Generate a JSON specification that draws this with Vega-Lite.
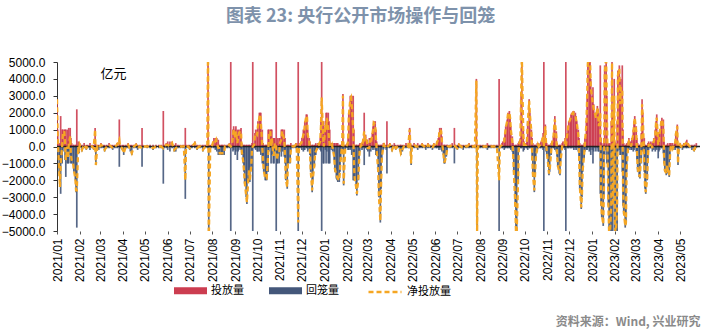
{
"$schema":"https://vega.github.io/schema/vega-lite/v6.json",
"width":643,"height":169,
"autosize":{"type":"none"},
"padding":{"left":57,"top":62,"right":7,"bottom":103},
"background":"white",
"title":{"text":"图表 23: 央行公开市场操作与回笼","font":"Noto Sans CJK SC","fontSize":18,"fontWeight":"bold","color":"#7e92ab","anchor":"middle","offset":30,"dx":-18},
"config":{"view":{"stroke":null},"axis":{"grid":false},"axisY":{"labelOverlap":false,"labelBound":false},"axisX":{"labelOverlap":false}},
"data":{"values":[
{"d":"2021-01-01","投放量":2800,"回笼量":0,"净投放量":2800},
{"d":"2021-01-02","投放量":1000,"回笼量":-500,"净投放量":500},
{"d":"2021-01-04","投放量":200,"回笼量":-1500,"净投放量":-1300},
{"d":"2021-01-05","投放量":0,"回笼量":-2400,"净投放量":-2400},
{"d":"2021-01-06","投放量":1800,"回笼量":-2800,"净投放量":-1000},
{"d":"2021-01-08","投放量":1000,"回笼量":-1000,"净投放量":0},
{"d":"2021-01-09","投放量":1000,"回笼量":-300,"净投放量":700},
{"d":"2021-01-11","投放量":1000,"回笼量":-100,"净投放量":900},
{"d":"2021-01-12","投放量":1000,"回笼量":-800,"净投放量":200},
{"d":"2021-01-13","投放量":1000,"回笼量":-1800,"净投放量":-800},
{"d":"2021-01-15","投放量":1000,"回笼量":-1000,"净投放量":0},
{"d":"2021-01-16","投放量":300,"回笼量":-1000,"净投放量":-700},
{"d":"2021-01-17","投放量":1100,"回笼量":-1000,"净投放量":100},
{"d":"2021-01-19","投放量":1100,"回笼量":-500,"净投放量":600},
{"d":"2021-01-20","投放量":500,"回笼量":-1000,"净投放量":-500},
{"d":"2021-01-21","投放量":200,"回笼量":-1000,"净投放量":-800},
{"d":"2021-01-23","投放量":100,"回笼量":-1100,"净投放量":-1000},
{"d":"2021-01-24","投放量":100,"回笼量":-1500,"净投放量":-1400},
{"d":"2021-01-26","投放量":100,"回笼量":-2000,"净投放量":-1900},
{"d":"2021-01-27","投放量":100,"回笼量":-2700,"净投放量":-2600},
{"d":"2021-01-28","投放量":2200,"回笼量":-4800,"净投放量":-2600},
{"d":"2021-01-30","投放量":300,"回笼量":-300,"净投放量":0},
{"d":"2021-01-31","投放量":100,"回笼量":-400,"净投放量":-300},
{"d":"2021-02-01","投放量":200,"回笼量":-100,"净投放量":100},
{"d":"2021-02-04","投放量":100,"回笼量":-300,"净投放量":-200},
{"d":"2021-02-07","投放量":200,"回笼量":-100,"净投放量":100},
{"d":"2021-02-10","投放量":100,"回笼量":-200,"净投放量":-100},
{"d":"2021-02-12","投放量":100,"回笼量":-100,"净投放量":0},
{"d":"2021-02-15","投放量":200,"回笼量":-200,"净投放量":0},
{"d":"2021-02-18","投放量":100,"回笼量":-100,"净投放量":0},
{"d":"2021-02-20","投放量":100,"回笼量":-200,"净投放量":-100},
{"d":"2021-02-22","投放量":1100,"回笼量":-100,"净投放量":1000},
{"d":"2021-02-23","投放量":0,"回笼量":-1100,"净投放量":-1100},
{"d":"2021-02-25","投放量":100,"回笼量":-100,"净投放量":0},
{"d":"2021-02-27","投放量":100,"回笼量":-200,"净投放量":-100},
{"d":"2021-03-02","投放量":200,"回笼量":-100,"净投放量":100},
{"d":"2021-03-05","投放量":100,"回笼量":-100,"净投放量":0},
{"d":"2021-03-07","投放量":100,"回笼量":-300,"净投放量":-200},
{"d":"2021-03-10","投放量":100,"回笼量":-100,"净投放量":0},
{"d":"2021-03-13","投放量":200,"回笼量":-100,"净投放量":100},
{"d":"2021-03-16","投放量":100,"回笼量":-100,"净投放量":0},
{"d":"2021-03-18","投放量":100,"回笼量":-200,"净投放量":-100},
{"d":"2021-03-21","投放量":100,"回笼量":-100,"净投放量":0},
{"d":"2021-03-24","投放量":200,"回笼量":-100,"净投放量":100},
{"d":"2021-03-27","投放量":1600,"回笼量":-1200,"净投放量":400},
{"d":"2021-03-28","投放量":100,"回笼量":-100,"净投放量":0},
{"d":"2021-03-31","投放量":100,"回笼量":-200,"净投放量":-100},
{"d":"2021-04-02","投放量":100,"回笼量":-500,"净投放量":-400},
{"d":"2021-04-05","投放量":100,"回笼量":-100,"净投放量":0},
{"d":"2021-04-08","投放量":200,"回笼量":-100,"净投放量":100},
{"d":"2021-04-11","投放量":100,"回笼量":-300,"净投放量":-200},
{"d":"2021-04-13","投放量":100,"回笼量":-500,"净投放量":-400},
{"d":"2021-04-16","投放量":100,"回笼量":-100,"净投放量":0},
{"d":"2021-04-19","投放量":200,"回笼量":-100,"净投放量":100},
{"d":"2021-04-21","投放量":100,"回笼量":-200,"净投放量":-100},
{"d":"2021-04-24","投放量":100,"回笼量":-100,"净投放量":0},
{"d":"2021-04-27","投放量":1100,"回笼量":-1200,"净投放量":-100},
{"d":"2021-04-28","投放量":100,"回笼量":-100,"净投放量":0},
{"d":"2021-05-04","投放量":100,"回笼量":-100,"净投放量":0},
{"d":"2021-05-08","投放量":100,"回笼量":-100,"净投放量":0},
{"d":"2021-05-12","投放量":100,"回笼量":-200,"净投放量":-100},
{"d":"2021-05-16","投放量":100,"回笼量":-100,"净投放量":0},
{"d":"2021-05-20","投放量":100,"回笼量":-100,"净投放量":0},
{"d":"2021-05-23","投放量":100,"回笼量":-100,"净投放量":0},
{"d":"2021-05-26","投放量":2100,"回笼量":-2200,"净投放量":-100},
{"d":"2021-05-27","投放量":100,"回笼量":-100,"净投放量":0},
{"d":"2021-05-30","投放量":200,"回笼量":-100,"净投放量":100},
{"d":"2021-06-01","投放量":300,"回笼量":-200,"净投放量":100},
{"d":"2021-06-04","投放量":300,"回笼量":-300,"净投放量":0},
{"d":"2021-06-07","投放量":300,"回笼量":-100,"净投放量":200},
{"d":"2021-06-10","投放量":100,"回笼量":-300,"净投放量":-200},
{"d":"2021-06-12","投放量":200,"回笼量":-300,"净投放量":-100},
{"d":"2021-06-15","投放量":100,"回笼量":-100,"净投放量":0},
{"d":"2021-06-18","投放量":100,"回笼量":-100,"净投放量":0},
{"d":"2021-06-21","投放量":100,"回笼量":-100,"净投放量":0},
{"d":"2021-06-23","投放量":100,"回笼量":-100,"净投放量":0},
{"d":"2021-06-25","投放量":1100,"回笼量":-3100,"净投放量":-2000},
{"d":"2021-06-26","投放量":100,"回笼量":-100,"净投放量":0},
{"d":"2021-06-29","投放量":100,"回笼量":-100,"净投放量":0},
{"d":"2021-07-01","投放量":100,"回笼量":-200,"净投放量":-100},
{"d":"2021-07-04","投放量":100,"回笼量":-100,"净投放量":0},
{"d":"2021-07-08","投放量":300,"回笼量":-100,"净投放量":200},
{"d":"2021-07-11","投放量":100,"回笼量":-200,"净投放量":-100},
{"d":"2021-07-14","投放量":100,"回笼量":-100,"净投放量":0},
{"d":"2021-07-16","投放量":100,"回笼量":-100,"净投放量":0},
{"d":"2021-07-19","投放量":100,"回笼量":-300,"净投放量":-200},
{"d":"2021-07-22","投放量":100,"回笼量":-100,"净投放量":0},
{"d":"2021-07-25","投放量":100,"回笼量":-100,"净投放量":0},
{"d":"2021-07-26","投放量":6000,"回笼量":-100,"净投放量":5900},
{"d":"2021-07-27","投放量":100,"回笼量":-6000,"净投放量":-5900},
{"d":"2021-07-29","投放量":100,"回笼量":-100,"净投放量":0},
{"d":"2021-07-31","投放量":100,"回笼量":-100,"净投放量":0},
{"d":"2021-08-03","投放量":500,"回笼量":-100,"净投放量":400},
{"d":"2021-08-05","投放量":500,"回笼量":-200,"净投放量":300},
{"d":"2021-08-06","投放量":500,"回笼量":-100,"净投放量":400},
{"d":"2021-08-07","投放量":500,"回笼量":-300,"净投放量":200},
{"d":"2021-08-09","投放量":400,"回笼量":-500,"净投放量":-100},
{"d":"2021-08-10","投放量":100,"回笼量":-200,"净投放量":-100},
{"d":"2021-08-11","投放量":100,"回笼量":-500,"净投放量":-400},
{"d":"2021-08-13","投放量":100,"回笼量":-500,"净投放量":-400},
{"d":"2021-08-14","投放量":100,"回笼量":-500,"净投放量":-400},
{"d":"2021-08-15","投放量":100,"回笼量":-500,"净投放量":-400},
{"d":"2021-08-17","投放量":100,"回笼量":-500,"净投放量":-400},
{"d":"2021-08-18","投放量":100,"回笼量":-100,"净投放量":0},
{"d":"2021-08-21","投放量":100,"回笼量":-100,"净投放量":0},
{"d":"2021-08-24","投放量":200,"回笼量":-100,"净投放量":100},
{"d":"2021-08-26","投放量":6000,"回笼量":-6000,"净投放量":0},
{"d":"2021-08-28","投放量":200,"回笼量":-100,"净投放量":100},
{"d":"2021-08-29","投放量":1000,"回笼量":-300,"净投放量":700},
{"d":"2021-08-30","投放量":1200,"回笼量":-200,"净投放量":1000},
{"d":"2021-09-01","投放量":1000,"回笼量":-500,"净投放量":500},
{"d":"2021-09-02","投放量":1200,"回笼量":-300,"净投放量":900},
{"d":"2021-09-04","投放量":1000,"回笼量":-800,"净投放量":200},
{"d":"2021-09-05","投放量":800,"回笼量":-300,"净投放量":500},
{"d":"2021-09-06","投放量":1000,"回笼量":-200,"净投放量":800},
{"d":"2021-09-08","投放量":1000,"回笼量":-100,"净投放量":900},
{"d":"2021-09-09","投放量":1100,"回笼量":-200,"净投放量":900},
{"d":"2021-09-10","投放量":200,"回笼量":-500,"净投放量":-300},
{"d":"2021-09-12","投放量":100,"回笼量":-1000,"净投放量":-900},
{"d":"2021-09-13","投放量":100,"回笼量":-1500,"净投放量":-1400},
{"d":"2021-09-14","投放量":100,"回笼量":-2200,"净投放量":-2100},
{"d":"2021-09-16","投放量":100,"回笼量":-3000,"净投放量":-2900},
{"d":"2021-09-17","投放量":100,"回笼量":-3400,"净投放量":-3300},
{"d":"2021-09-19","投放量":100,"回笼量":-2000,"净投放量":-1900},
{"d":"2021-09-20","投放量":100,"回笼量":-1500,"净投放量":-1400},
{"d":"2021-09-21","投放量":100,"回笼量":-2100,"净投放量":-2000},
{"d":"2021-09-23","投放量":100,"回笼量":-1200,"净投放量":-1100},
{"d":"2021-09-24","投放量":200,"回笼量":-300,"净投放量":-100},
{"d":"2021-09-25","投放量":6000,"回笼量":-6000,"净投放量":0},
{"d":"2021-09-27","投放量":200,"回笼量":-100,"净投放量":100},
{"d":"2021-09-28","投放量":800,"回笼量":-100,"净投放量":700},
{"d":"2021-09-29","投放量":1000,"回笼量":-200,"净投放量":800},
{"d":"2021-10-01","投放量":1000,"回笼量":-300,"净投放量":700},
{"d":"2021-10-02","投放量":1500,"回笼量":-300,"净投放量":1200},
{"d":"2021-10-04","投放量":2000,"回笼量":-300,"净投放量":1700},
{"d":"2021-10-05","投放量":2000,"回笼量":-100,"净投放量":1900},
{"d":"2021-10-06","投放量":2000,"回笼量":-500,"净投放量":1500},
{"d":"2021-10-08","投放量":1000,"回笼量":-1000,"净投放量":0},
{"d":"2021-10-09","投放量":200,"回笼量":-1000,"净投放量":-800},
{"d":"2021-10-10","投放量":100,"回笼量":-1500,"净投放量":-1400},
{"d":"2021-10-12","投放量":100,"回笼量":-2000,"净投放量":-1900},
{"d":"2021-10-13","投放量":100,"回笼量":-2000,"净投放量":-1900},
{"d":"2021-10-14","投放量":100,"回笼量":-2000,"净投放量":-1900},
{"d":"2021-10-16","投放量":1000,"回笼量":-1500,"净投放量":-500},
{"d":"2021-10-17","投放量":1000,"回笼量":-300,"净投放量":700},
{"d":"2021-10-19","投放量":1000,"回笼量":-100,"净投放量":900},
{"d":"2021-10-20","投放量":1000,"回笼量":-1000,"净投放量":0},
{"d":"2021-10-21","投放量":1000,"回笼量":-500,"净投放量":500},
{"d":"2021-10-23","投放量":500,"回笼量":-1000,"净投放量":-500},
{"d":"2021-10-24","投放量":500,"回笼量":-1000,"净投放量":-500},
{"d":"2021-10-25","投放量":500,"回笼量":-300,"净投放量":200},
{"d":"2021-10-27","投放量":6000,"回笼量":-6000,"净投放量":0},
{"d":"2021-10-28","投放量":200,"回笼量":-1000,"净投放量":-800},
{"d":"2021-10-29","投放量":500,"回笼量":-1000,"净投放量":-500},
{"d":"2021-10-31","投放量":500,"回笼量":-1000,"净投放量":-500},
{"d":"2021-11-01","投放量":500,"回笼量":-300,"净投放量":200},
{"d":"2021-11-03","投放量":1000,"回笼量":-600,"净投放量":400},
{"d":"2021-11-04","投放量":1000,"回笼量":-100,"净投放量":900},
{"d":"2021-11-05","投放量":1000,"回笼量":-300,"净投放量":700},
{"d":"2021-11-07","投放量":1000,"回笼量":-600,"净投放量":400},
{"d":"2021-11-08","投放量":500,"回笼量":-1000,"净投放量":-500},
{"d":"2021-11-09","投放量":100,"回笼量":-2000,"净投放量":-1900},
{"d":"2021-11-11","投放量":100,"回笼量":-2500,"净投放量":-2400},
{"d":"2021-11-12","投放量":100,"回笼量":-1000,"净投放量":-900},
{"d":"2021-11-13","投放量":100,"回笼量":-1000,"净投放量":-900},
{"d":"2021-11-15","投放量":100,"回笼量":-1000,"净投放量":-900},
{"d":"2021-11-16","投放量":200,"回笼量":-300,"净投放量":-100},
{"d":"2021-11-18","投放量":100,"回笼量":-100,"净投放量":0},
{"d":"2021-11-20","投放量":100,"回笼量":-100,"净投放量":0},
{"d":"2021-11-23","投放量":200,"回笼量":-100,"净投放量":100},
{"d":"2021-11-24","投放量":200,"回笼量":-300,"净投放量":-100},
{"d":"2021-11-26","投放量":6000,"回笼量":-10500,"净投放量":-4500},
{"d":"2021-11-27","投放量":100,"回笼量":-100,"净投放量":0},
{"d":"2021-11-28","投放量":200,"回笼量":-100,"净投放量":100},
{"d":"2021-11-30","投放量":300,"回笼量":-100,"净投放量":200},
{"d":"2021-12-01","投放量":500,"回笼量":-200,"净投放量":300},
{"d":"2021-12-03","投放量":1000,"回笼量":-300,"净投放量":700},
{"d":"2021-12-04","投放量":1000,"回笼量":-200,"净投放量":800},
{"d":"2021-12-05","投放量":1500,"回笼量":-200,"净投放量":1300},
{"d":"2021-12-07","投放量":1900,"回笼量":-100,"净投放量":1800},
{"d":"2021-12-08","投放量":1900,"回笼量":-100,"净投放量":1800},
{"d":"2021-12-09","投放量":1000,"回笼量":-300,"净投放量":700},
{"d":"2021-12-11","投放量":500,"回笼量":-200,"净投放量":300},
{"d":"2021-12-12","投放量":300,"回笼量":-500,"净投放量":-200},
{"d":"2021-12-13","投放量":100,"回笼量":-1500,"净投放量":-1400},
{"d":"2021-12-15","投放量":100,"回笼量":-2700,"净投放量":-2600},
{"d":"2021-12-16","投放量":100,"回笼量":-2000,"净投放量":-1900},
{"d":"2021-12-18","投放量":100,"回笼量":-1200,"净投放量":-1100},
{"d":"2021-12-19","投放量":100,"回笼量":-500,"净投放量":-400},
{"d":"2021-12-20","投放量":200,"回笼量":-500,"净投放量":-300},
{"d":"2021-12-22","投放量":100,"回笼量":-200,"净投放量":-100},
{"d":"2021-12-23","投放量":200,"回笼量":-100,"净投放量":100},
{"d":"2021-12-24","投放量":200,"回笼量":-100,"净投放量":100},
{"d":"2021-12-26","投放量":500,"回笼量":-200,"净投放量":300},
{"d":"2021-12-27","投放量":1500,"回笼量":-300,"净投放量":1200},
{"d":"2021-12-28","投放量":8000,"回笼量":-5100,"净投放量":2900},
{"d":"2021-12-30","投放量":1500,"回笼量":-1000,"净投放量":500},
{"d":"2021-12-31","投放量":1000,"回笼量":-1000,"净投放量":0},
{"d":"2022-01-02","投放量":1500,"回笼量":-200,"净投放量":1300},
{"d":"2022-01-03","投放量":2000,"回笼量":-1000,"净投放量":1000},
{"d":"2022-01-04","投放量":2000,"回笼量":-300,"净投放量":1700},
{"d":"2022-01-06","投放量":2000,"回笼量":-1000,"净投放量":1000},
{"d":"2022-01-07","投放量":1500,"回笼量":-1000,"净投放量":500},
{"d":"2022-01-08","投放量":1000,"回笼量":-1000,"净投放量":0},
{"d":"2022-01-10","投放量":200,"回笼量":-200,"净投放量":0},
{"d":"2022-01-11","投放量":200,"回笼量":-100,"净投放量":100},
{"d":"2022-01-12","投放量":200,"回笼量":-300,"净投放量":-100},
{"d":"2022-01-14","投放量":200,"回笼量":-800,"净投放量":-600},
{"d":"2022-01-15","投放量":200,"回笼量":-1500,"净投放量":-1300},
{"d":"2022-01-17","投放量":200,"回笼量":-1900,"净投放量":-1700},
{"d":"2022-01-18","投放量":200,"回笼量":-2000,"净投放量":-1800},
{"d":"2022-01-19","投放量":200,"回笼量":-2100,"净投放量":-1900},
{"d":"2022-01-21","投放量":100,"回笼量":-2100,"净投放量":-2000},
{"d":"2022-01-22","投放量":100,"回笼量":-1500,"净投放量":-1400},
{"d":"2022-01-23","投放量":100,"回笼量":-800,"净投放量":-700},
{"d":"2022-01-25","投放量":300,"回笼量":-200,"净投放量":100},
{"d":"2022-01-26","投放量":3100,"回笼量":-100,"净投放量":3000},
{"d":"2022-01-27","投放量":100,"回笼量":-2300,"净投放量":-2200},
{"d":"2022-01-29","投放量":100,"回笼量":-300,"净投放量":-200},
{"d":"2022-01-30","投放量":100,"回笼量":-100,"净投放量":0},
{"d":"2022-02-01","投放量":200,"回笼量":-100,"净投放量":100},
{"d":"2022-02-02","投放量":500,"回笼量":-200,"净投放量":300},
{"d":"2022-02-03","投放量":2000,"回笼量":-200,"净投放量":1800},
{"d":"2022-02-05","投放量":3000,"回笼量":-200,"净投放量":2800},
{"d":"2022-02-06","投放量":3000,"回笼量":-100,"净投放量":2900},
{"d":"2022-02-07","投放量":3000,"回笼量":-500,"净投放量":2500},
{"d":"2022-02-09","投放量":3000,"回笼量":-2000,"净投放量":1000},
{"d":"2022-02-10","投放量":1000,"回笼量":-2000,"净投放量":-1000},
{"d":"2022-02-11","投放量":100,"回笼量":-2000,"净投放量":-1900},
{"d":"2022-02-13","投放量":100,"回笼量":-2500,"净投放量":-2400},
{"d":"2022-02-14","投放量":100,"回笼量":-2900,"净投放量":-2800},
{"d":"2022-02-16","投放量":100,"回笼量":-2000,"净投放量":-1900},
{"d":"2022-02-17","投放量":100,"回笼量":-1000,"净投放量":-900},
{"d":"2022-02-18","投放量":200,"回笼量":-300,"净投放量":-100},
{"d":"2022-02-20","投放量":200,"回笼量":-100,"净投放量":100},
{"d":"2022-02-21","投放量":200,"回笼量":-200,"净投放量":0},
{"d":"2022-02-22","投放量":300,"回笼量":-100,"净投放量":200},
{"d":"2022-02-24","投放量":2000,"回笼量":-1100,"净投放量":900},
{"d":"2022-02-25","投放量":600,"回笼量":-100,"净投放量":500},
{"d":"2022-02-26","投放量":700,"回笼量":-100,"净投放量":600},
{"d":"2022-02-28","投放量":400,"回笼量":-200,"净投放量":200},
{"d":"2022-03-01","投放量":200,"回笼量":-300,"净投放量":-100},
{"d":"2022-03-03","投放量":500,"回笼量":-600,"净投放量":-100},
{"d":"2022-03-04","投放量":500,"回笼量":-100,"净投放量":400},
{"d":"2022-03-05","投放量":500,"回笼量":-300,"净投放量":200},
{"d":"2022-03-07","投放量":800,"回笼量":-100,"净投放量":700},
{"d":"2022-03-08","投放量":1200,"回笼量":-200,"净投放量":1000},
{"d":"2022-03-09","投放量":1500,"回笼量":-100,"净投放量":1400},
{"d":"2022-03-11","投放量":1500,"回笼量":-200,"净投放量":1300},
{"d":"2022-03-12","投放量":1000,"回笼量":-500,"净投放量":500},
{"d":"2022-03-13","投放量":300,"回笼量":-500,"净投放量":-200},
{"d":"2022-03-15","投放量":100,"回笼量":-1500,"净投放量":-1400},
{"d":"2022-03-16","投放量":100,"回笼量":-3000,"净投放量":-2900},
{"d":"2022-03-18","投放量":100,"回笼量":-4500,"净投放量":-4400},
{"d":"2022-03-19","投放量":100,"回笼量":-2500,"净投放量":-2400},
{"d":"2022-03-20","投放量":100,"回笼量":-800,"净投放量":-700},
{"d":"2022-03-22","投放量":200,"回笼量":-200,"净投放量":0},
{"d":"2022-03-23","投放量":200,"回笼量":-100,"净投放量":100},
{"d":"2022-03-24","投放量":100,"回笼量":-100,"净投放量":0},
{"d":"2022-03-26","投放量":100,"回笼量":-200,"净投放量":-100},
{"d":"2022-03-27","投放量":1500,"回笼量":-1600,"净投放量":-100},
{"d":"2022-03-28","投放量":100,"回笼量":-100,"净投放量":0},
{"d":"2022-03-31","投放量":200,"回笼量":-100,"净投放量":100},
{"d":"2022-04-03","投放量":100,"回笼量":-300,"净投放量":-200},
{"d":"2022-04-06","投放量":200,"回笼量":-100,"净投放量":100},
{"d":"2022-04-08","投放量":100,"回笼量":-200,"净投放量":-100},
{"d":"2022-04-11","投放量":100,"回笼量":-100,"净投放量":0},
{"d":"2022-04-14","投放量":100,"回笼量":-300,"净投放量":-200},
{"d":"2022-04-15","投放量":100,"回笼量":-500,"净投放量":-400},
{"d":"2022-04-17","投放量":100,"回笼量":-300,"净投放量":-200},
{"d":"2022-04-19","投放量":100,"回笼量":-100,"净投放量":0},
{"d":"2022-04-22","投放量":200,"回笼量":-100,"净投放量":100},
{"d":"2022-04-25","投放量":100,"回笼量":-100,"净投放量":0},
{"d":"2022-04-27","投放量":1100,"回笼量":-100,"净投放量":1000},
{"d":"2022-04-29","投放量":100,"回笼量":-1100,"净投放量":-1000},
{"d":"2022-04-30","投放量":100,"回笼量":-100,"净投放量":0},
{"d":"2022-05-03","投放量":200,"回笼量":-100,"净投放量":100},
{"d":"2022-05-06","投放量":100,"回笼量":-100,"净投放量":0},
{"d":"2022-05-08","投放量":200,"回笼量":-200,"净投放量":0},
{"d":"2022-05-11","投放量":100,"回笼量":-100,"净投放量":0},
{"d":"2022-05-14","投放量":200,"回笼量":-100,"净投放量":100},
{"d":"2022-05-17","投放量":100,"回笼量":-100,"净投放量":0},
{"d":"2022-05-19","投放量":100,"回笼量":-200,"净投放量":-100},
{"d":"2022-05-22","投放量":200,"回笼量":-100,"净投放量":100},
{"d":"2022-05-25","投放量":100,"回笼量":-100,"净投放量":0},
{"d":"2022-05-28","投放量":100,"回笼量":-200,"净投放量":-100},
{"d":"2022-05-30","投放量":200,"回笼量":-100,"净投放量":100},
{"d":"2022-06-02","投放量":100,"回笼量":-100,"净投放量":0},
{"d":"2022-06-03","投放量":300,"回笼量":-100,"净投放量":200},
{"d":"2022-06-05","投放量":500,"回笼量":-100,"净投放量":400},
{"d":"2022-06-06","投放量":800,"回笼量":-200,"净投放量":600},
{"d":"2022-06-07","投放量":1100,"回笼量":-100,"净投放量":1000},
{"d":"2022-06-09","投放量":1100,"回笼量":-200,"净投放量":900},
{"d":"2022-06-10","投放量":600,"回笼量":-300,"净投放量":300},
{"d":"2022-06-12","投放量":100,"回笼量":-500,"净投放量":-400},
{"d":"2022-06-13","投放量":100,"回笼量":-1000,"净投放量":-900},
{"d":"2022-06-14","投放量":100,"回笼量":-1000,"净投放量":-900},
{"d":"2022-06-16","投放量":100,"回笼量":-600,"净投放量":-500},
{"d":"2022-06-17","投放量":100,"回笼量":-300,"净投放量":-200},
{"d":"2022-06-18","投放量":100,"回笼量":-100,"净投放量":0},
{"d":"2022-06-21","投放量":100,"回笼量":-100,"净投放量":0},
{"d":"2022-06-24","投放量":200,"回笼量":-100,"净投放量":100},
{"d":"2022-06-27","投放量":1100,"回笼量":-1000,"净投放量":100},
{"d":"2022-06-28","投放量":100,"回笼量":-100,"净投放量":0},
{"d":"2022-07-01","投放量":100,"回笼量":-200,"净投放量":-100},
{"d":"2022-07-03","投放量":200,"回笼量":-100,"净投放量":100},
{"d":"2022-07-06","投放量":100,"回笼量":-100,"净投放量":0},
{"d":"2022-07-09","投放量":100,"回笼量":-200,"净投放量":-100},
{"d":"2022-07-12","投放量":100,"回笼量":-100,"净投放量":0},
{"d":"2022-07-14","投放量":100,"回笼量":-100,"净投放量":0},
{"d":"2022-07-17","投放量":200,"回笼量":-100,"净投放量":100},
{"d":"2022-07-20","投放量":100,"回笼量":-100,"净投放量":0},
{"d":"2022-07-22","投放量":100,"回笼量":-100,"净投放量":0},
{"d":"2022-07-25","投放量":100,"回笼量":-100,"净投放量":0},
{"d":"2022-07-27","投放量":4000,"回笼量":-100,"净投放量":3900},
{"d":"2022-07-28","投放量":100,"回笼量":-5200,"净投放量":-5100},
{"d":"2022-07-29","投放量":100,"回笼量":-100,"净投放量":0},
{"d":"2022-08-01","投放量":100,"回笼量":-100,"净投放量":0},
{"d":"2022-08-04","投放量":100,"回笼量":-100,"净投放量":0},
{"d":"2022-08-06","投放量":100,"回笼量":-100,"净投放量":0},
{"d":"2022-08-09","投放量":100,"回笼量":-100,"净投放量":0},
{"d":"2022-08-11","投放量":200,"回笼量":-200,"净投放量":0},
{"d":"2022-08-13","投放量":100,"回笼量":-100,"净投放量":0},
{"d":"2022-08-16","投放量":100,"回笼量":-100,"净投放量":0},
{"d":"2022-08-19","投放量":100,"回笼量":-100,"净投放量":0},
{"d":"2022-08-21","投放量":100,"回笼量":-100,"净投放量":0},
{"d":"2022-08-24","投放量":100,"回笼量":-100,"净投放量":0},
{"d":"2022-08-27","投放量":4000,"回笼量":-6000,"净投放量":-2000},
{"d":"2022-08-28","投放量":100,"回笼量":-100,"净投放量":0},
{"d":"2022-08-31","投放量":200,"回笼量":-100,"净投放量":100},
{"d":"2022-09-01","投放量":300,"回笼量":-100,"净投放量":200},
{"d":"2022-09-03","投放量":500,"回笼量":-200,"净投放量":300},
{"d":"2022-09-04","投放量":800,"回笼量":-100,"净投放量":700},
{"d":"2022-09-05","投放量":1200,"回笼量":-100,"净投放量":1100},
{"d":"2022-09-07","投放量":1600,"回笼量":-100,"净投放量":1500},
{"d":"2022-09-08","投放量":2000,"回笼量":-100,"净投放量":1900},
{"d":"2022-09-10","投放量":2100,"回笼量":-100,"净投放量":2000},
{"d":"2022-09-11","投放量":1800,"回笼量":-100,"净投放量":1700},
{"d":"2022-09-12","投放量":1200,"回笼量":-200,"净投放量":1000},
{"d":"2022-09-14","投放量":600,"回笼量":-300,"净投放量":300},
{"d":"2022-09-15","投放量":200,"回笼量":-500,"净投放量":-300},
{"d":"2022-09-16","投放量":100,"回笼量":-1500,"净投放量":-1400},
{"d":"2022-09-18","投放量":100,"回笼量":-3500,"净投放量":-3400},
{"d":"2022-09-19","投放量":100,"回笼量":-5200,"净投放量":-5100},
{"d":"2022-09-20","投放量":100,"回笼量":-5200,"净投放量":-5100},
{"d":"2022-09-22","投放量":200,"回笼量":-2000,"净投放量":-1800},
{"d":"2022-09-23","投放量":300,"回笼量":-200,"净投放量":100},
{"d":"2022-09-25","投放量":500,"回笼量":-100,"净投放量":400},
{"d":"2022-09-26","投放量":3000,"回笼量":-100,"净投放量":2900},
{"d":"2022-09-27","投放量":5500,"回笼量":-100,"净投放量":5400},
{"d":"2022-09-29","投放量":1000,"回笼量":-300,"净投放量":700},
{"d":"2022-09-30","投放量":300,"回笼量":-200,"净投放量":100},
{"d":"2022-10-01","投放量":200,"回笼量":-100,"净投放量":100},
{"d":"2022-10-03","投放量":200,"回笼量":-100,"净投放量":100},
{"d":"2022-10-04","投放量":500,"回笼量":-100,"净投放量":400},
{"d":"2022-10-05","投放量":1500,"回笼量":-200,"净投放量":1300},
{"d":"2022-10-07","投放量":2800,"回笼量":-100,"净投放量":2700},
{"d":"2022-10-08","投放量":2000,"回笼量":-100,"净投放量":1900},
{"d":"2022-10-10","投放量":1000,"回笼量":-100,"净投放量":900},
{"d":"2022-10-11","投放量":500,"回笼量":-800,"净投放量":-300},
{"d":"2022-10-12","投放量":200,"回笼量":-1800,"净投放量":-1600},
{"d":"2022-10-14","投放量":100,"回笼量":-2700,"净投放量":-2600},
{"d":"2022-10-15","投放量":100,"回笼量":-1800,"净投放量":-1700},
{"d":"2022-10-16","投放量":100,"回笼量":-800,"净投放量":-700},
{"d":"2022-10-18","投放量":200,"回笼量":-300,"净投放量":-100},
{"d":"2022-10-19","投放量":200,"回笼量":-100,"净投放量":100},
{"d":"2022-10-20","投放量":100,"回笼量":-100,"净投放量":0},
{"d":"2022-10-22","投放量":200,"回笼量":-100,"净投放量":100},
{"d":"2022-10-23","投放量":300,"回笼量":-100,"净投放量":200},
{"d":"2022-10-25","投放量":500,"回笼量":-100,"净投放量":400},
{"d":"2022-10-26","投放量":800,"回笼量":-200,"净投放量":600},
{"d":"2022-10-27","投放量":6000,"回笼量":-6000,"净投放量":0},
{"d":"2022-10-29","投放量":1300,"回笼量":-100,"净投放量":1200},
{"d":"2022-10-30","投放量":500,"回笼量":-300,"净投放量":200},
{"d":"2022-10-31","投放量":200,"回笼量":-500,"净投放量":-300},
{"d":"2022-11-02","投放量":100,"回笼量":-1200,"净投放量":-1100},
{"d":"2022-11-03","投放量":100,"回笼量":-1700,"净投放量":-1600},
{"d":"2022-11-04","投放量":100,"回笼量":-1500,"净投放量":-1400},
{"d":"2022-11-06","投放量":200,"回笼量":-500,"净投放量":-300},
{"d":"2022-11-07","投放量":300,"回笼量":-100,"净投放量":200},
{"d":"2022-11-09","投放量":600,"回笼量":-100,"净投放量":500},
{"d":"2022-11-10","投放量":1200,"回笼量":-100,"净投放量":1100},
{"d":"2022-11-11","投放量":1800,"回笼量":-200,"净投放量":1600},
{"d":"2022-11-13","投放量":900,"回笼量":-300,"净投放量":600},
{"d":"2022-11-14","投放量":200,"回笼量":-600,"净投放量":-400},
{"d":"2022-11-15","投放量":100,"回笼量":-1200,"净投放量":-1100},
{"d":"2022-11-17","投放量":100,"回笼量":-1600,"净投放量":-1500},
{"d":"2022-11-18","投放量":100,"回笼量":-1700,"净投放量":-1600},
{"d":"2022-11-19","投放量":100,"回笼量":-900,"净投放量":-800},
{"d":"2022-11-21","投放量":200,"回笼量":-200,"净投放量":0},
{"d":"2022-11-22","投放量":300,"回笼量":-100,"净投放量":200},
{"d":"2022-11-24","投放量":300,"回笼量":-100,"净投放量":200},
{"d":"2022-11-25","投放量":500,"回笼量":-200,"净投放量":300},
{"d":"2022-11-26","投放量":6000,"回笼量":-6000,"净投放量":0},
{"d":"2022-11-28","投放量":800,"回笼量":-100,"净投放量":700},
{"d":"2022-11-29","投放量":1200,"回笼量":-100,"净投放量":1100},
{"d":"2022-11-30","投放量":1500,"回笼量":-100,"净投放量":1400},
{"d":"2022-12-02","投放量":1700,"回笼量":-100,"净投放量":1600},
{"d":"2022-12-03","投放量":1900,"回笼量":-100,"净投放量":1800},
{"d":"2022-12-04","投放量":2000,"回笼量":-100,"净投放量":1900},
{"d":"2022-12-06","投放量":2100,"回笼量":-100,"净投放量":2000},
{"d":"2022-12-07","投放量":2100,"回笼量":-200,"净投放量":1900},
{"d":"2022-12-09","投放量":2000,"回笼量":-100,"净投放量":1900},
{"d":"2022-12-10","投放量":1800,"回笼量":-200,"净投放量":1600},
{"d":"2022-12-11","投放量":1500,"回笼量":-100,"净投放量":1400},
{"d":"2022-12-13","投放量":1000,"回笼量":-300,"净投放量":700},
{"d":"2022-12-14","投放量":500,"回笼量":-800,"净投放量":-300},
{"d":"2022-12-15","投放量":200,"回笼量":-2500,"净投放量":-2300},
{"d":"2022-12-17","投放量":100,"回笼量":-3700,"净投放量":-3600},
{"d":"2022-12-18","投放量":100,"回笼量":-3000,"净投放量":-2900},
{"d":"2022-12-19","投放量":100,"回笼量":-1500,"净投放量":-1400},
{"d":"2022-12-21","投放量":200,"回笼量":-700,"净投放量":-500},
{"d":"2022-12-22","投放量":500,"回笼量":-300,"净投放量":200},
{"d":"2022-12-24","投放量":1500,"回笼量":-200,"净投放量":1300},
{"d":"2022-12-25","投放量":3000,"回笼量":-200,"净投放量":2800},
{"d":"2022-12-26","投放量":5000,"回笼量":-100,"净投放量":4900},
{"d":"2022-12-28","投放量":6000,"回笼量":-300,"净投放量":5700},
{"d":"2022-12-29","投放量":5500,"回笼量":-200,"净投放量":5300},
{"d":"2022-12-30","投放量":4000,"回笼量":-500,"净投放量":3500},
{"d":"2023-01-01","投放量":3000,"回笼量":-200,"净投放量":2800},
{"d":"2023-01-02","投放量":3500,"回笼量":-1000,"净投放量":2500},
{"d":"2023-01-03","投放量":2500,"回笼量":-300,"净投放量":2200},
{"d":"2023-01-05","投放量":2000,"回笼量":-100,"净投放量":1900},
{"d":"2023-01-06","投放量":2000,"回笼量":-300,"净投放量":1700},
{"d":"2023-01-08","投放量":2400,"回笼量":-100,"净投放量":2300},
{"d":"2023-01-09","投放量":2200,"回笼量":-300,"净投放量":1900},
{"d":"2023-01-10","投放量":1500,"回笼量":-300,"净投放量":1200},
{"d":"2023-01-12","投放量":4800,"回笼量":-2800,"净投放量":2000},
{"d":"2023-01-13","投放量":500,"回笼量":-3500,"净投放量":-3000},
{"d":"2023-01-14","投放量":200,"回笼量":-4200,"净投放量":-4000},
{"d":"2023-01-16","投放量":100,"回笼量":-4700,"净投放量":-4600},
{"d":"2023-01-17","投放量":500,"回笼量":-3000,"净投放量":-2500},
{"d":"2023-01-18","投放量":4800,"回笼量":-500,"净投放量":4300},
{"d":"2023-01-20","投放量":5500,"回笼量":-200,"净投放量":5300},
{"d":"2023-01-21","投放量":3000,"回笼量":-1000,"净投放量":2000},
{"d":"2023-01-23","投放量":200,"回笼量":-3500,"净投放量":-3300},
{"d":"2023-01-24","投放量":100,"回笼量":-5200,"净投放量":-5100},
{"d":"2023-01-25","投放量":200,"回笼量":-5500,"净投放量":-5300},
{"d":"2023-01-27","投放量":1500,"回笼量":-5000,"净投放量":-3500},
{"d":"2023-01-28","投放量":5500,"回笼量":-300,"净投放量":5200},
{"d":"2023-01-29","投放量":2000,"回笼量":-5500,"净投放量":-3500},
{"d":"2023-01-31","投放量":4000,"回笼量":-1000,"净投放量":3000},
{"d":"2023-02-01","投放量":300,"回笼量":-5000,"净投放量":-4700},
{"d":"2023-02-02","投放量":200,"回笼量":-5500,"净投放量":-5300},
{"d":"2023-02-04","投放量":1500,"回笼量":-5000,"净投放量":-3500},
{"d":"2023-02-05","投放量":4500,"回笼量":-300,"净投放量":4200},
{"d":"2023-02-07","投放量":4800,"回笼量":-200,"净投放量":4600},
{"d":"2023-02-08","投放量":3000,"回笼量":-500,"净投放量":2500},
{"d":"2023-02-09","投放量":4000,"回笼量":-500,"净投放量":3500},
{"d":"2023-02-11","投放量":4800,"回笼量":-1500,"净投放量":3300},
{"d":"2023-02-12","投放量":1000,"回笼量":-3500,"净投放量":-2500},
{"d":"2023-02-13","投放量":200,"回笼量":-4000,"净投放量":-3800},
{"d":"2023-02-15","投放量":100,"回笼量":-4800,"净投放量":-4700},
{"d":"2023-02-16","投放量":100,"回笼量":-4600,"净投放量":-4500},
{"d":"2023-02-17","投放量":200,"回笼量":-1500,"净投放量":-1300},
{"d":"2023-02-19","投放量":300,"回笼量":-300,"净投放量":0},
{"d":"2023-02-20","投放量":500,"回笼量":-200,"净投放量":300},
{"d":"2023-02-22","投放量":300,"回笼量":-100,"净投放量":200},
{"d":"2023-02-23","投放量":200,"回笼量":-200,"净投放量":0},
{"d":"2023-02-24","投放量":500,"回笼量":-200,"净投放量":300},
{"d":"2023-02-26","投放量":1000,"回笼量":-300,"净投放量":700},
{"d":"2023-02-27","投放量":1500,"回笼量":-200,"净投放量":1300},
{"d":"2023-02-28","投放量":1800,"回笼量":-100,"净投放量":1700},
{"d":"2023-03-02","投放量":1200,"回笼量":-300,"净投放量":900},
{"d":"2023-03-03","投放量":500,"回笼量":-800,"净投放量":-300},
{"d":"2023-03-04","投放量":200,"回笼量":-1500,"净投放量":-1300},
{"d":"2023-03-06","投放量":100,"回笼量":-1800,"净投放量":-1700},
{"d":"2023-03-07","投放量":100,"回笼量":-1900,"净投放量":-1800},
{"d":"2023-03-09","投放量":800,"回笼量":-1000,"净投放量":-200},
{"d":"2023-03-10","投放量":2800,"回笼量":-300,"净投放量":2500},
{"d":"2023-03-11","投放量":2000,"回笼量":-200,"净投放量":1800},
{"d":"2023-03-13","投放量":500,"回笼量":-1500,"净投放量":-1000},
{"d":"2023-03-14","投放量":100,"回笼量":-2500,"净投放量":-2400},
{"d":"2023-03-15","投放量":100,"回笼量":-2800,"净投放量":-2700},
{"d":"2023-03-17","投放量":100,"回笼量":-2000,"净投放量":-1900},
{"d":"2023-03-18","投放量":200,"回笼量":-800,"净投放量":-600},
{"d":"2023-03-19","投放量":300,"回笼量":-200,"净投放量":100},
{"d":"2023-03-21","投放量":200,"回笼量":-100,"净投放量":100},
{"d":"2023-03-22","投放量":300,"回笼量":-100,"净投放量":200},
{"d":"2023-03-24","投放量":200,"回笼量":-300,"净投放量":-100},
{"d":"2023-03-25","投放量":300,"回笼量":-100,"净投放量":200},
{"d":"2023-03-26","投放量":500,"回笼量":-200,"净投放量":300},
{"d":"2023-03-28","投放量":1000,"回笼量":-300,"净投放量":700},
{"d":"2023-03-29","投放量":1500,"回笼量":-100,"净投放量":1400},
{"d":"2023-03-30","投放量":1900,"回笼量":-200,"净投放量":1700},
{"d":"2023-04-01","投放量":800,"回笼量":-700,"净投放量":100},
{"d":"2023-04-02","投放量":500,"回笼量":-300,"净投放量":200},
{"d":"2023-04-03","投放量":1000,"回笼量":-200,"净投放量":800},
{"d":"2023-04-05","投放量":1500,"回笼量":-100,"净投放量":1400},
{"d":"2023-04-06","投放量":1700,"回笼量":-100,"净投放量":1600},
{"d":"2023-04-08","投放量":1600,"回笼量":-400,"净投放量":1200},
{"d":"2023-04-09","投放量":300,"回笼量":-1000,"净投放量":-700},
{"d":"2023-04-10","投放量":100,"回笼量":-1500,"净投放量":-1400},
{"d":"2023-04-12","投放量":100,"回笼量":-1700,"净投放量":-1600},
{"d":"2023-04-13","投放量":100,"回笼量":-1200,"净投放量":-1100},
{"d":"2023-04-14","投放量":200,"回笼量":-1600,"净投放量":-1400},
{"d":"2023-04-16","投放量":100,"回笼量":-1800,"净投放量":-1700},
{"d":"2023-04-17","投放量":200,"回笼量":-800,"净投放量":-600},
{"d":"2023-04-18","投放量":200,"回笼量":-200,"净投放量":0},
{"d":"2023-04-20","投放量":200,"回笼量":-100,"净投放量":100},
{"d":"2023-04-21","投放量":100,"回笼量":-200,"净投放量":-100},
{"d":"2023-04-23","投放量":200,"回笼量":-100,"净投放量":100},
{"d":"2023-04-24","投放量":300,"回笼量":-200,"净投放量":100},
{"d":"2023-04-25","投放量":800,"回笼量":-100,"净投放量":700},
{"d":"2023-04-27","投放量":1300,"回笼量":-100,"净投放量":1200},
{"d":"2023-04-28","投放量":100,"回笼量":-1100,"净投放量":-1000},
{"d":"2023-04-29","投放量":100,"回笼量":-300,"净投放量":-200},
{"d":"2023-05-01","投放量":200,"回笼量":-100,"净投放量":100},
{"d":"2023-05-04","投放量":100,"回笼量":-200,"净投放量":-100},
{"d":"2023-05-06","投放量":200,"回笼量":-100,"净投放量":100},
{"d":"2023-05-09","投放量":300,"回笼量":-100,"净投放量":200},
{"d":"2023-05-10","投放量":400,"回笼量":-100,"净投放量":300},
{"d":"2023-05-12","投放量":200,"回笼量":-100,"净投放量":100},
{"d":"2023-05-14","投放量":100,"回笼量":-100,"净投放量":0},
{"d":"2023-05-17","投放量":100,"回笼量":-200,"净投放量":-100},
{"d":"2023-05-20","投放量":100,"回笼量":-300,"净投放量":-200},
{"d":"2023-05-21","投放量":100,"回笼量":-200,"净投放量":-100},
{"d":"2023-05-23","投放量":200,"回笼量":-100,"净投放量":100}
]},
"layer":[
{"transform":[{"fold":["投放量","回笼量"],"as":["系列","值"]}],
 "mark":{"type":"bar","width":1.7,"clip":true,"opacity":0.9},
 "encoding":{
  "x":{"field":"d","type":"temporal","scale":{"type":"utc","nice":false,"padding":0,"domain":[{"year":2021,"month":1,"date":1,"utc":true},{"year":2023,"month":5,"date":28,"utc":true}]},
   "axis":{"format":"%Y/%m","labelAngle":-90,"tickCount":40,
    "values":[{"year":2021,"month":1,"date":1,"utc":true},{"year":2021,"month":2,"date":1,"utc":true},{"year":2021,"month":3,"date":1,"utc":true},{"year":2021,"month":4,"date":1,"utc":true},{"year":2021,"month":5,"date":1,"utc":true},{"year":2021,"month":6,"date":1,"utc":true},{"year":2021,"month":7,"date":1,"utc":true},{"year":2021,"month":8,"date":1,"utc":true},{"year":2021,"month":9,"date":1,"utc":true},{"year":2021,"month":10,"date":1,"utc":true},{"year":2021,"month":11,"date":1,"utc":true},{"year":2021,"month":12,"date":1,"utc":true},{"year":2022,"month":1,"date":1,"utc":true},{"year":2022,"month":2,"date":1,"utc":true},{"year":2022,"month":3,"date":1,"utc":true},{"year":2022,"month":4,"date":1,"utc":true},{"year":2022,"month":5,"date":1,"utc":true},{"year":2022,"month":6,"date":1,"utc":true},{"year":2022,"month":7,"date":1,"utc":true},{"year":2022,"month":8,"date":1,"utc":true},{"year":2022,"month":9,"date":1,"utc":true},{"year":2022,"month":10,"date":1,"utc":true},{"year":2022,"month":11,"date":1,"utc":true},{"year":2022,"month":12,"date":1,"utc":true},{"year":2023,"month":1,"date":1,"utc":true},{"year":2023,"month":2,"date":1,"utc":true},{"year":2023,"month":3,"date":1,"utc":true},{"year":2023,"month":4,"date":1,"utc":true},{"year":2023,"month":5,"date":1,"utc":true}],
    "labelFont":"Liberation Sans","labelFontSize":12,"labelColor":"#000","domain":false,"ticks":true,"tickSize":3,"tickColor":"#555","labelPadding":4,"labelOverlap":false,"labelFlush":false,
    "title":"资料来源：Wind, 兴业研究","titleFont":"Noto Sans CJK SC","titleFontSize":12,"titleFontWeight":"bold","titleColor":"#8a8a8a","titleAnchor":"end","titleAlign":"right","titleBaseline":"middle","titleX":643,"titleY":90}},
  "y":{"field":"值","type":"quantitative","stack":null,"scale":{"domain":[-5000,5000],"nice":false,"zero":false},
   "axis":{"values":[-5000,-4000,-3000,-2000,-1000,0,1000,2000,3000,4000,5000],"tickCount":20,"format":".1f","labelOverlap":false,"labelBound":false,"labelFont":"Liberation Sans","labelFontSize":12,"labelColor":"#000","domainColor":"#333","tickColor":"#333","tickSize":4,"labelPadding":8,"labelFlush":false,
    "title":"亿元","titleAngle":0,"titleFont":"Noto Sans CJK SC","titleFontSize":13,"titleFontWeight":"normal","titleColor":"#000","titleAlign":"left","titleBaseline":"middle","titleX":43,"titleY":11}},
  "color":{"field":"系列","type":"nominal","scale":{"domain":["投放量","回笼量"],"range":["#cc3d50","#44577a"]},
   "legend":{"orient":"none","legendX":117,"legendY":212,"direction":"horizontal","title":null,"symbolType":"M-1,-0.21H1V0.21H-1Z","symbolSize":1089,"symbolStrokeWidth":0,"symbolOpacity":1,"labelFont":"Noto Sans CJK SC","labelFontSize":11,"labelColor":"#000","labelOffset":4,"columnPadding":25}}
 }},
{"data":{"values":[{}]},"mark":{"type":"rule","color":"#222","strokeWidth":1.5},"encoding":{"y":{"datum":0,"type":"quantitative"}}},
{"transform":[{"fold":["净投放量"],"as":["系列","值"]}],
 "mark":{"type":"line","color":"#f5a623","strokeWidth":2.3,"clip":true,"strokeCap":"butt"},
 "encoding":{
  "x":{"field":"d","type":"temporal"},
  "y":{"field":"值","type":"quantitative"},
  "strokeDash":{"field":"系列","type":"nominal","scale":{"domain":["净投放量"],"range":[[5,3]]},
   "legend":{"orient":"none","legendX":310,"legendY":212,"title":null,"symbolType":"stroke","symbolSize":1089,"symbolStrokeColor":"#f5a623","symbolStrokeWidth":2.5,"labelFont":"Noto Sans CJK SC","labelFontSize":11,"labelColor":"#000","labelOffset":4}}
 }}
]
}
